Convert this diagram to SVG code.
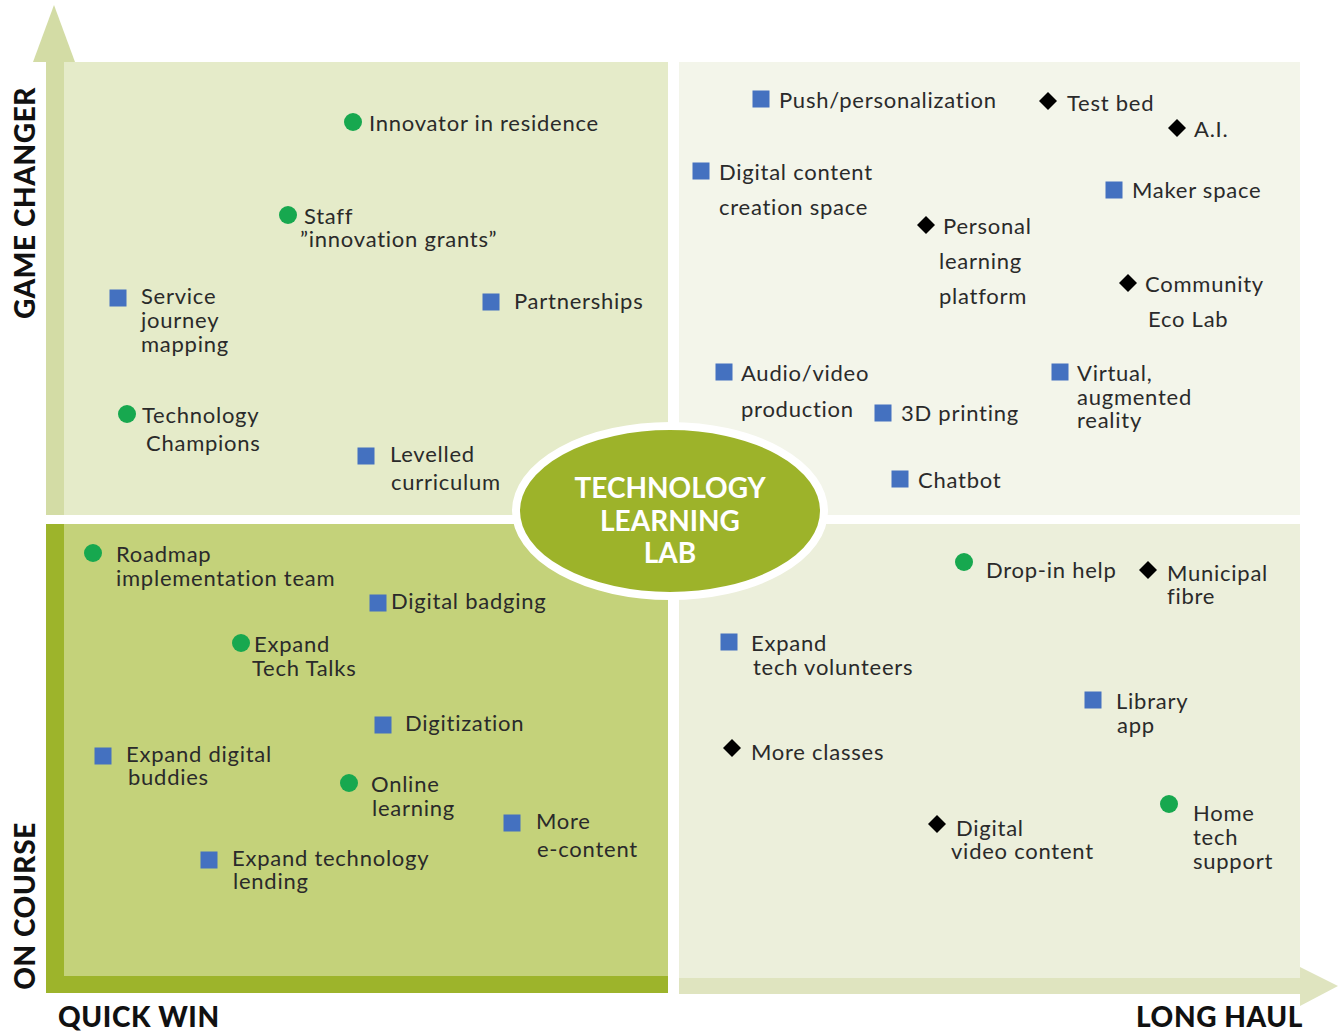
<svg xmlns="http://www.w3.org/2000/svg" width="1338" height="1034" viewBox="0 0 1338 1034">
<defs>
<style>
.t{font-family:Lato,"Open Sans","Liberation Sans",sans-serif;font-size:22px;letter-spacing:0.75px;fill:#2a2a2a}
.ax{font-family:Lato,"Liberation Sans",sans-serif;font-weight:900;font-size:28px;letter-spacing:0.6px;fill:#111}
.lab{font-family:Lato,"Liberation Sans",sans-serif;font-weight:700;font-size:28px;fill:#fff;text-anchor:middle}
.c{fill:#17a84f}
.s{fill:#4471c0}
.d{fill:#000}
</style>
<rect id="sq" x="-8.5" y="-8.5" width="17" height="17"/>
<polygon id="dm" points="0,-9 9,0 0,9 -9,0"/>
</defs>
<rect width="1338" height="1034" fill="#fff"/>
<g id="quadrants">
<rect x="64" y="62" width="604" height="453" fill="#e5ebc9"/>
<rect x="679" y="62" width="621" height="453" fill="#f3f5ea"/>
<rect x="679" y="524" width="621" height="454" fill="#ecefdb"/>
<rect x="46" y="524" width="622" height="469" fill="#9db42b"/>
<rect x="64" y="524" width="604" height="452" fill="#c4d27a"/>
</g>
<g id="axes">
<rect x="46" y="60" width="18" height="455" fill="#d3dca5"/>
<polygon points="54,5 75,62 33,62" fill="#d3dca5"/>
<rect x="679" y="978" width="623" height="16" fill="#dfe4bf"/>
<polygon points="1300,967 1338,986 1300,1006" fill="#dfe4bf"/>
</g>
<g id="axis-labels">
<text class="ax" transform="translate(35,203) rotate(-90)" text-anchor="middle">GAME CHANGER</text>
<text class="ax" transform="translate(35,906) rotate(-90)" text-anchor="middle">ON COURSE</text>
<text class="ax" x="58" y="1027">QUICK WIN</text>
<text class="ax" x="1136" y="1027">LONG HAUL</text>
</g>
<g id="center">
<ellipse cx="670" cy="511" rx="154" ry="85" fill="#9db32a" stroke="#fff" stroke-width="8"/>
<text class="lab" x="670" y="498">TECHNOLOGY</text>
<text class="lab" x="670" y="531">LEARNING</text>
<text class="lab" x="670" y="563">LAB</text>
</g>
<g id="connectors"></g>
<!-- top-left -->
<g id="innovator"><circle class="c" cx="353" cy="122" r="9"/><text class="t" x="369" y="131">Innovator in residence</text></g>
<g id="staff"><circle class="c" cx="288" cy="215" r="9"/><text class="t" x="304" y="224">Staff</text><text class="t" x="300" y="247">”innovation grants”</text></g>
<g id="service"><use href="#sq" class="s" x="118" y="298"/><text class="t" x="141" y="304">Service</text><text class="t" x="141" y="328">journey</text><text class="t" x="141" y="352">mapping</text></g>
<g id="partnerships"><use href="#sq" class="s" x="491" y="302"/><text class="t" x="514" y="309">Partnerships</text></g>
<g id="champions"><circle class="c" cx="127" cy="414" r="9"/><text class="t" x="142" y="423">Technology</text><text class="t" x="146" y="451">Champions</text></g>
<g id="levelled"><use href="#sq" class="s" x="366" y="456"/><text class="t" x="390" y="462">Levelled</text><text class="t" x="391" y="490">curriculum</text></g>
<!-- top-right -->
<g id="push"><use href="#sq" class="s" x="761" y="99"/><text class="t" x="779" y="108">Push/personalization</text></g>
<g id="testbed"><use href="#dm" class="d" x="1048" y="101"/><text class="t" x="1067" y="111">Test bed</text></g>
<g id="ai"><use href="#dm" class="d" x="1177" y="128"/><text class="t" x="1194" y="137">A.I.</text></g>
<g id="digital-content"><use href="#sq" class="s" x="701" y="171"/><text class="t" x="719" y="180">Digital content</text><text class="t" x="719" y="215">creation space</text></g>
<g id="maker"><use href="#sq" class="s" x="1114" y="190"/><text class="t" x="1132" y="198">Maker space</text></g>
<g id="personal"><use href="#dm" class="d" x="926" y="225"/><text class="t" x="943" y="234">Personal</text><text class="t" x="939" y="269">learning</text><text class="t" x="939" y="304">platform</text></g>
<g id="community"><use href="#dm" class="d" x="1128" y="283"/><text class="t" x="1145" y="292">Community</text><text class="t" x="1148" y="327">Eco Lab</text></g>
<g id="audio"><use href="#sq" class="s" x="724" y="372"/><text class="t" x="741" y="381">Audio/video</text><text class="t" x="741" y="417">production</text></g>
<g id="printing"><use href="#sq" class="s" x="883" y="413"/><text class="t" x="901" y="421">3D printing</text></g>
<g id="virtual"><use href="#sq" class="s" x="1060" y="372"/><text class="t" x="1077" y="381">Virtual,</text><text class="t" x="1077" y="405">augmented</text><text class="t" x="1077" y="428">reality</text></g>
<g id="chatbot"><use href="#sq" class="s" x="900" y="479"/><text class="t" x="918" y="488">Chatbot</text></g>
<!-- bottom-left -->
<g id="roadmap"><circle class="c" cx="93" cy="553" r="9"/><text class="t" x="116" y="562">Roadmap</text><text class="t" x="116" y="586">implementation team</text></g>
<g id="badging"><use href="#sq" class="s" x="378" y="603"/><text class="t" x="391" y="609">Digital badging</text></g>
<g id="techtalks"><circle class="c" cx="241" cy="643" r="9"/><text class="t" x="254" y="652">Expand</text><text class="t" x="252" y="676">Tech Talks</text></g>
<g id="digitization"><use href="#sq" class="s" x="383" y="725"/><text class="t" x="405" y="731">Digitization</text></g>
<g id="buddies"><use href="#sq" class="s" x="103" y="756"/><text class="t" x="126" y="762">Expand digital</text><text class="t" x="128" y="785">buddies</text></g>
<g id="online"><circle class="c" cx="349" cy="783" r="9"/><text class="t" x="371" y="792">Online</text><text class="t" x="372" y="816">learning</text></g>
<g id="econtent"><use href="#sq" class="s" x="512" y="823"/><text class="t" x="536" y="829">More</text><text class="t" x="537" y="857">e-content</text></g>
<g id="lending"><use href="#sq" class="s" x="209" y="860"/><text class="t" x="232" y="866">Expand technology</text><text class="t" x="233" y="889">lending</text></g>
<!-- bottom-right -->
<g id="dropin"><circle class="c" cx="964" cy="562" r="9"/><text class="t" x="986" y="578">Drop-in help</text></g>
<g id="fibre"><use href="#dm" class="d" x="1148" y="570"/><text class="t" x="1167" y="581">Municipal</text><text class="t" x="1167" y="604">fibre</text></g>
<g id="volunteers"><use href="#sq" class="s" x="729" y="642"/><text class="t" x="751" y="651">Expand</text><text class="t" x="753" y="675">tech volunteers</text></g>
<g id="libapp"><use href="#sq" class="s" x="1093" y="700"/><text class="t" x="1116" y="709">Library</text><text class="t" x="1117" y="733">app</text></g>
<g id="classes"><use href="#dm" class="d" x="732" y="748"/><text class="t" x="751" y="760">More classes</text></g>
<g id="hometech"><circle class="c" cx="1169" cy="804" r="9"/><text class="t" x="1193" y="821">Home</text><text class="t" x="1193" y="845">tech</text><text class="t" x="1193" y="869">support</text></g>
<g id="videocontent"><use href="#dm" class="d" x="937" y="824"/><text class="t" x="956" y="836">Digital</text><text class="t" x="951" y="859">video content</text></g>
</svg>
